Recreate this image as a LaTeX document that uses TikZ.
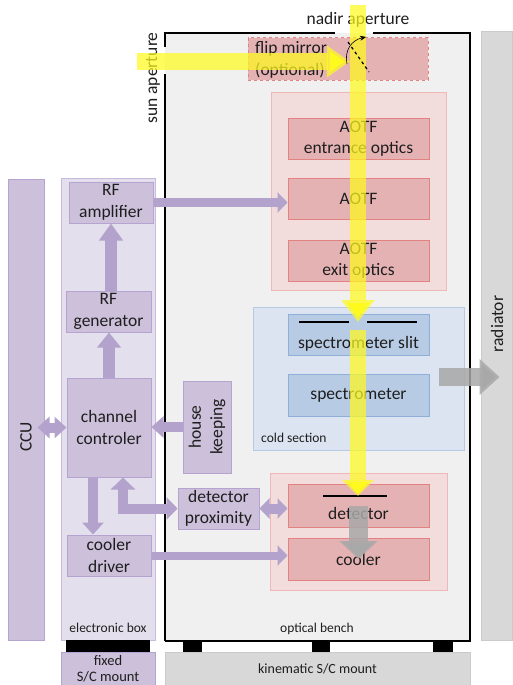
\documentclass[tikz,border=0pt]{standalone}
\usepackage{fontspec}
\setmainfont{Carlito}
\usetikzlibrary{arrows.meta}

\definecolor{benchgrey}{RGB}{240,240,240}
\definecolor{mountgrey}{RGB}{216,216,216}
\definecolor{mountline}{RGB}{202,202,202}
\definecolor{groupred}{RGB}{242,220,220}
\definecolor{groupredline}{RGB}{238,184,184}
\definecolor{boxred}{RGB}{229,178,180}
\definecolor{boxredline}{RGB}{226,130,130}
\definecolor{groupblue}{RGB}{220,228,241}
\definecolor{groupblueline}{RGB}{182,202,230}
\definecolor{boxblue}{RGB}{184,203,228}
\definecolor{boxblueline}{RGB}{142,176,216}
\definecolor{boxviolet}{RGB}{204,192,218}
\definecolor{boxvioletline}{RGB}{182,164,208}
\definecolor{eboxfill}{RGB}{228,223,236}
\definecolor{eboxline}{RGB}{200,186,220}
\definecolor{arrowviolet}{RGB}{178,162,204}
\definecolor{arrowgrey}{RGB}{168,168,168}
\definecolor{beamyellow}{RGB}{255,250,30}
\definecolor{textdark}{RGB}{30,30,30}

\tikzset{
        bigtext/.style={inner sep=0, text=textdark, align=center, font=\fontsize{17.5}{21.5}\selectfont},
        smalltext/.style={inner sep=0, text=textdark, align=center, font=\fontsize{13.5}{17}\selectfont},
        redbox/.style={bigtext, draw=boxredline, fill=boxred, line width=1, minimum width=141, minimum height=41},
        redgroup/.style={draw=groupredline, fill=groupred, line width=1},
        bluebox/.style={bigtext, draw=boxblueline, fill=boxblue, line width=1, minimum width=141, minimum height=41},
        bluegroup/.style={draw=groupblueline, fill=groupblue, line width=1},
        violetbox/.style={bigtext, draw=boxvioletline, fill=boxviolet, line width=1},
        greymount/.style={draw=mountline, fill=mountgrey, line width=1},
        vioarrow/.style={draw=arrowviolet, line width=10},
        greyarrow/.style={draw=arrowgrey, draw opacity=0.85},
        beamarrow/.style={draw=beamyellow, draw opacity=0.72, line width=16},
        vhead/.tip={Triangle[length=12pt,width=21pt]},
        foot/.style={fill=black}
}

\begin{document}
\begin{tikzpicture}[x=1pt,y=1pt,yscale=-1,xscale=1]
        \useasboundingbox (0,0) rectangle (512,685);

        % Optical bench
        \fill[benchgrey] (165,33) rectangle (470,641);
        \draw[line width=1.2] (165,47) -- (165,33) -- (335,33);
        \draw[line width=1.2] (165,74) -- (165,641);
        \draw[line width=1.8] (373,33) -- (470,33) -- (470,641) -- (165,641);
        \node[smalltext] (benchlabel) at (317,629) {optical bench};
        \fill[foot] (183,641) rectangle (202,652);
        \fill[foot] (312,641) rectangle (330,652);
        \fill[foot] (433,641) rectangle (453,652);
        \node[greymount, minimum width=305, minimum height=33] (kinmount) at (317.5,668.5) {};
        \node[smalltext, font=\fontsize{14}{17}\selectfont] at (kinmount) {kinematic S/C mount};

        % Radiator
        \node[greymount, minimum width=31, minimum height=608] (radiator) at (496.5,336) {};
        \node[bigtext, rotate=90] (radlabel) at (497,324) {radiator};

        % Apertures
        \node[bigtext] (nadir) at (358,20) {nadir aperture};
        \node[bigtext, rotate=90] (sun) at (153,78) {sun aperture};

        % Flip mirror
        \node[draw=boxredline, fill=boxred, line width=1, dashed, minimum width=180, minimum height=42] (flip) at (338,59) {};
        \node[bigtext, anchor=west, align=left] (fliplabel) at (255,60) {flip mirror\\(optional)};

        % AOTF group
        \node[redgroup, minimum width=175, minimum height=198] (aotfgroup) at (358.5,191) {};
        \node[redbox] (aotfin) at (358.5,138.5) {AOTF\\entrance optics};
        \node[redbox] (aotf) at (358.5,198.5) {AOTF};
        \node[redbox] (aotfout) at (358.5,260.5) {AOTF\\exit optics};

        % Cold section
        \node[bluegroup, minimum width=211, minimum height=143] (cold) at (358.5,378.5) {};
        \node[smalltext, anchor=west] (coldlabel) at (261,438) {cold section};
        \node[bluebox] (slit) at (358.5,334.5) {};
        \node[bigtext] (slitlabel) at (358.5,344) {spectrometer slit};
        \node[bluebox, minimum height=42] (spectro) at (358.5,395) {spectrometer};
        \draw[line width=1.2] (299,322) -- (349,322);
        \draw[line width=1.2] (367,322) -- (417,322);

        % Detector group
        \node[redgroup, minimum width=177, minimum height=117] (detgroup) at (358.5,531.5) {};
        \node[redbox, minimum height=43] (detector) at (358.5,505.5) {};
        \node[bigtext] (detlabel) at (358.5,513) {detector};
        \node[redbox, minimum height=42] (cooler) at (358.5,559) {cooler};
        \draw[line width=1.2] (323,496) -- (387,496);

        % CCU and electronic box
        \node[violetbox, minimum width=36, minimum height=461] (ccu) at (26,409.5) {};
        \node[bigtext, rotate=90] (cculabel) at (26,437) {CCU};
        \node[draw=eboxline, fill=eboxfill, line width=1, minimum width=94, minimum height=462] (ebox) at (108,409) {};
        \node[smalltext] (eboxlabel) at (108,628) {electronic box};
        \fill[foot] (66,640) rectangle (150,652);
        \node[violetbox, minimum width=94, minimum height=33, font=\fontsize{14.5}{16}\selectfont] (fixmount) at (108,668.5) {fixed\\S/C mount};

        % Text Node
        \node[violetbox, minimum width=84, minimum height=41] (rfamp) at (111,202.5) {RF\\amplifier};
        \node[violetbox, minimum width=85, minimum height=41] (rfgen) at (108.5,311.5) {RF\\generator};
        \node[violetbox, minimum width=84, minimum height=99] (ctrl) at (109,427.5) {channel\\controler};
        \node[violetbox, minimum width=84, minimum height=41] (cooldrv) at (109,555.5) {cooler\\driver};
        \node[violetbox, minimum width=48, minimum height=92] (hk) at (207,427) {};
        \node[bigtext, rotate=90] (hklabel) at (hk) {house\\keeping};
        \node[violetbox, minimum width=81, minimum height=41] (detprox) at (218.5,508.5) {detector\\proximity};

        % Connection
        \draw[vioarrow, line width=9, -{Triangle[length=10pt,width=20pt]}] (rfamp.east) -- (rfamp.east -| aotf.west);
        \draw[vioarrow, line width=12, -{Triangle[length=17pt,width=23pt]}] (rfamp.south |- rfgen.north) -- (rfamp.south);
        \draw[vioarrow, line width=12, -{Triangle[length=15pt,width=23pt]}] (ctrl.north) -- (ctrl.north |- rfgen.south);
        \draw[vioarrow, vhead-vhead] ([xshift=-7pt]ccu.east |- ctrl.west) -- (ctrl.west);
        \draw[vioarrow, -vhead] (hk.west) -- (hk.west -| ctrl.east);
        \draw[vioarrow, -vhead] ([xshift=-16pt]ctrl.south) -- ([xshift=-16pt]ctrl.south |- cooldrv.north);
        \draw[vioarrow, {Triangle[length=12pt,width=24pt]}-{Triangle[length=11pt,width=22pt]}] ([xshift=14pt]ctrl.south) |- (detprox.west);
        \draw[vioarrow, {Triangle[length=10pt,width=20pt]}-{Triangle[length=10pt,width=20pt]}] (detprox.east) -- (detprox.east -| detector.west);
        \draw[vioarrow, line width=8, -{Triangle[length=10pt,width=20pt]}] (cooldrv.east) -- (cooldrv.east -| cooler.west);

        % Connection
        \coordinate (heatout) at (439,377);
        \draw[greyarrow, line width=18, -{Triangle[length=20pt,width=35pt]}] (heatout) -- ([xshift=19pt]heatout -| radiator.west);
        \draw[greyarrow, line width=19, -{Triangle[length=18pt,width=37pt]}] (detector.center) -- (cooler.center);

        % Light path
        \coordinate (sunin) at (137,61.5);
        \coordinate (beamtop) at (358,5);
        \coordinate (slitmid) at (358,322);
        \coordinate (slitout) at (358,330);
        \coordinate (detline) at (358,496);
        \draw[beamarrow, line width=17, -{Triangle[length=23pt,width=30pt]}] (sunin) -- ([xshift=-8pt]sunin -| beamtop);
        \draw[beamarrow, -{Triangle[length=22pt,width=32pt]}] (beamtop) -- (slitmid);
        \draw[beamarrow, -{Triangle[length=16pt,width=31pt]}] (slitout) -- (detline);

        % Mirror
        \draw[line width=1.2, dashed] (348,42) -- (369,72);
        \draw[line width=0.6, -{Stealth[length=6pt,width=5pt]}] (347,64) .. controls (344,50) and (352,40) .. (366,37);

\end{tikzpicture}
\end{document}
